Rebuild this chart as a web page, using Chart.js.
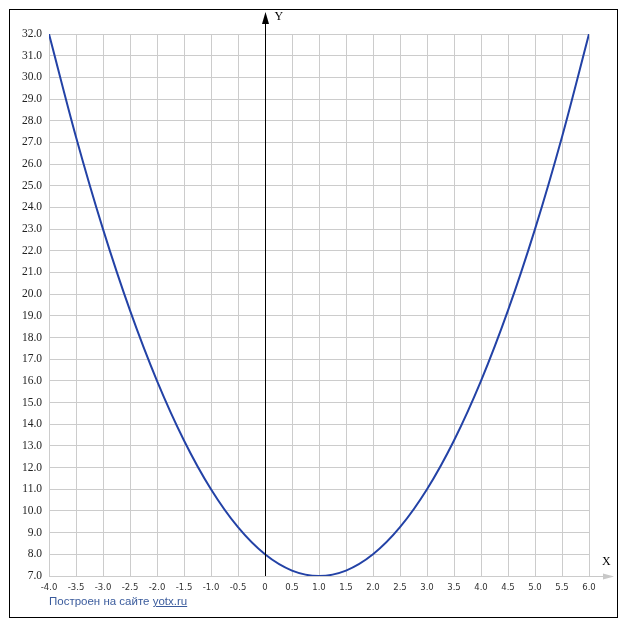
<!DOCTYPE html>
<html>
<head>
<meta charset="utf-8">
<script src="https://cdn.jsdelivr.net/npm/chart.js@4/dist/chart.umd.min.js"></script>
<style>
  html, body { margin: 0; padding: 0; background: #fff; }
  #wrap { position: relative; width: 627px; height: 630px; }
  #credit {
    position: absolute; left: 49px; top: 595px;
    font: 11.5px "Liberation Sans", Arial, sans-serif; color: #3a5b9c;
  }
  #credit u { color: #3a5b9c; }
</style>
</head>
<body>
<div id="wrap">
  <canvas id="plot" width="627" height="630"></canvas>
  <div id="credit">Построен на сайте <u>yotx.ru</u></div>
</div>
<script>
// values, every 0.5 on x
const xValues = [-4, -3.5, -3, -2.5, -2, -1.5, -1, -0.5, 0, 0.5, 1, 1.5, 2, 2.5, 3, 3.5, 4, 4.5, 5, 5.5, 6];
const yValues = [32, 27.25, 23, 19.25, 16, 13.25, 11, 9.25, 8, 7.25, 7, 7.25, 8, 9.25, 11, 13.25, 16, 19.25, 23, 27.25, 32];
const xRange = [-4, 6];
const yRange = [7, 32];

const gridColor = '#cccccc';
const curveColor = '#2342a6';

const points = xValues.map((x, i) => ({ x: x, y: yValues[i] }));

// frame, Y axis with arrow, gray X arrow and axis letters
const axesPlugin = {
    id: 'axes',
    afterDraw(chart) {
        const ctx = chart.ctx;
        const { x, y } = chart.scales;
        const area = chart.chartArea;
        ctx.save();

        // outer frame
        ctx.strokeStyle = '#000';
        ctx.lineWidth = 1;
        ctx.strokeRect(9.5, 9.5, 608, 608);

        // gray X axis arrow
        const by = Math.round(area.bottom) + 0.5;
        ctx.strokeStyle = '#c8c8c8';
        ctx.beginPath();
        ctx.moveTo(area.right, by);
        ctx.lineTo(608, by);
        ctx.stroke();
        ctx.fillStyle = '#c8c8c8';
        ctx.beginPath();
        ctx.moveTo(614, by);
        ctx.lineTo(603, by - 3);
        ctx.lineTo(603, by + 3);
        ctx.closePath();
        ctx.fill();

        // Y axis at x = 0
        const ax = Math.round(x.getPixelForValue(0)) + 0.5;
        ctx.strokeStyle = '#000';
        ctx.beginPath();
        ctx.moveTo(ax, area.bottom);
        ctx.lineTo(ax, 20);
        ctx.stroke();
        ctx.fillStyle = '#000';
        ctx.beginPath();
        ctx.moveTo(ax, 12);
        ctx.lineTo(ax - 3.5, 24);
        ctx.lineTo(ax + 3.5, 24);
        ctx.closePath();
        ctx.fill();

        ctx.font = '12px "Liberation Serif", serif';
        ctx.textBaseline = 'middle';
        ctx.textAlign = 'left';
        ctx.fillText('Y', ax + 9, 17);
        ctx.fillText('X', 602, 562);
        ctx.restore();
    }
};

new Chart(document.getElementById('plot'), {
    type: 'line',
    data: {
        datasets: [{
            data: points,
            borderColor: curveColor,
            borderWidth: 2,
            pointRadius: 0,
            cubicInterpolationMode: 'monotone',
            fill: false
        }]
    },
    options: {
        responsive: false,
        animation: false,
        layout: { padding: { top: 34, right: 38, left: 0, bottom: 0 } },
        plugins: {
            legend: { display: false },
            tooltip: { enabled: false }
        },
        scales: {
            x: {
                type: 'linear',
                min: xRange[0],
                max: xRange[1],
                afterFit: s => { s.height = 54; },
                border: { display: false },
                grid: { color: gridColor, drawTicks: false },
                ticks: {
                    stepSize: 0.5,
                    autoSkip: false,
                    maxRotation: 0,
                    padding: 7,
                    color: '#333',
                    font: { family: '"DejaVu Sans", Verdana, sans-serif', size: 8.5 },
                    callback: v => (v === 0 ? '0' : v.toFixed(1))
                }
            },
            y: {
                type: 'linear',
                min: yRange[0],
                max: yRange[1],
                afterFit: s => { s.width = 49; },
                border: { display: false },
                grid: { color: gridColor, drawTicks: false },
                ticks: {
                    stepSize: 1,
                    autoSkip: false,
                    padding: 7,
                    color: '#222',
                    font: { family: '"Liberation Serif", "Times New Roman", serif', size: 11.5 },
                    callback: v => v.toFixed(1)
                }
            }
        }
    },
    plugins: [axesPlugin]
});
</script>
</body>
</html>
